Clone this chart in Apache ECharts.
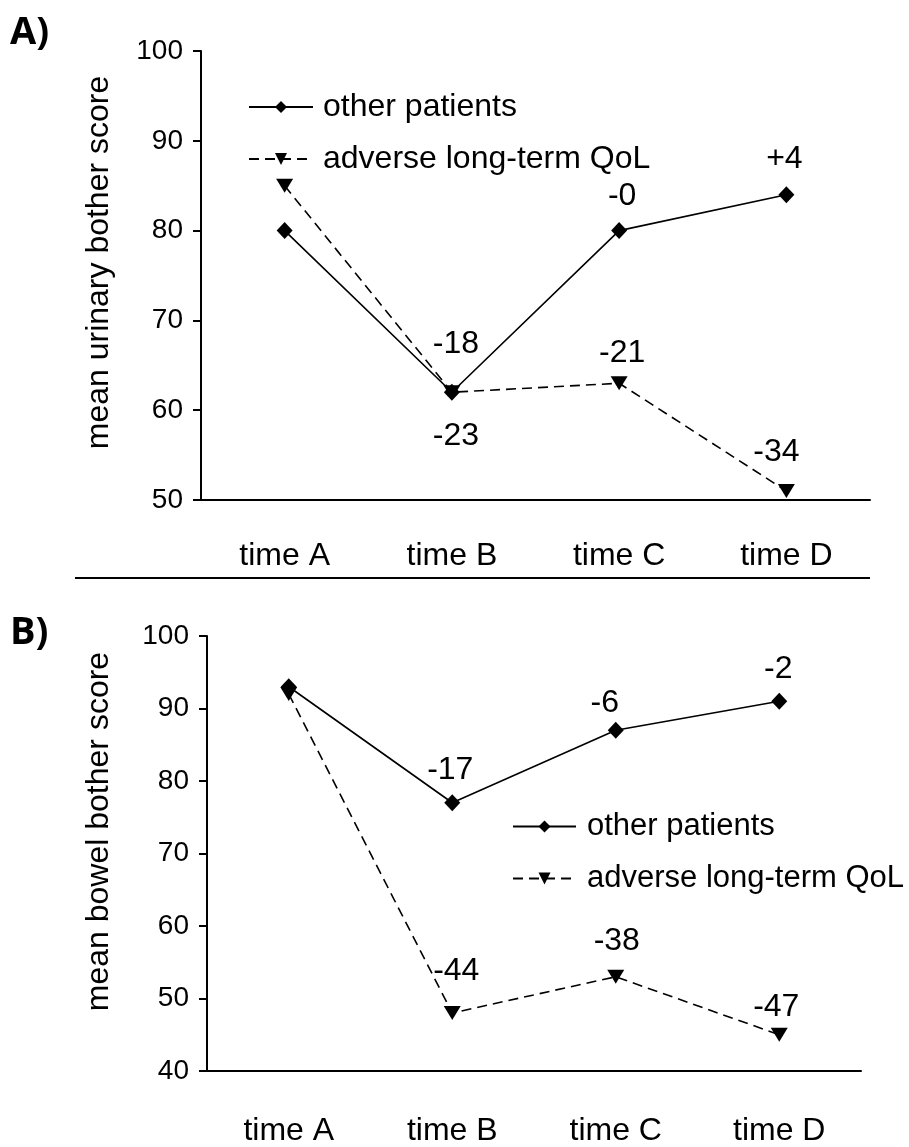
<!DOCTYPE html>
<html>
<head>
<meta charset="utf-8">
<script src="https://cdn.jsdelivr.net/npm/echarts@6/dist/echarts.min.js"></script>
<style>html,body{margin:0;padding:0;background:#fff}#c{width:909px;height:1147px}</style>
</head>
<body>
<div id="c"></div>
<script>
// ---- data ----
const categories = ['time A', 'time B', 'time C', 'time D'];
const seriesNames = ['other patients', 'adverse long-term QoL'];
// Panel A: urinary bother
const urinaryOther = [80, 62, 80, 84];
const urinaryAdverse = [85, 62, 63, 51];
const urinaryOtherChange = ['', '-18', '-0', '+4'];
const urinaryAdverseChange = ['', '-23', '-21', '-34'];
// Panel B: bowel bother
const bowelOther = [93, 77, 87, 91];
const bowelAdverse = [92, 48, 53, 45];
const bowelOtherChange = ['', '-17', '-6', '-2'];
const bowelAdverseChange = ['', '-44', '-38', '-47'];
const yTicksA = [50, 60, 70, 80, 90, 100];
const yTicksB = [40, 50, 60, 70, 80, 90, 100];

// ---- styles (label placement per point) ----
const labelStyleAO = [null, {position:'top', distance:24, offset:[4,0]}, {position:'top', distance:10, offset:[3,0]}, {position:'top', distance:11, offset:[-2,0]}];
const labelStyleAA = [null, {position:'bottom', distance:21, offset:[4,0]}, {position:'top', distance:7, offset:[3,0]}, {position:'top', distance:16, offset:[-10,0]}];
const labelStyleBO = [null, {position:'top', distance:8, offset:[-2,0]}, {position:'top', distance:3, offset:[-11,0]}, {position:'top', distance:8, offset:[-1,0]}];
const labelStyleBA = [null, {position:'top', distance:19, offset:[4,0]}, {position:'top', distance:13, offset:[1,0]}, {position:'top', distance:5, offset:[-3,0]}];

const FONT = '"Liberation Sans", Arial, sans-serif';
const TXT = {fontFamily: FONT, fontSize: 32, lineHeight: 32, color: '#000'};

function buildData(vals, changes, styles) {
  return vals.map((v, i) => {
    const s = styles[i];
    if (!changes[i] || !s) return {value: v, label: {show: false}};
    return {value: v, label: Object.assign({show: true, formatter: changes[i]}, s)};
  });
}

function mkSeries(name, vals, changes, styles, idx, dashed) {
  return {
    name: name, type: 'line', xAxisIndex: idx, yAxisIndex: idx,
    data: buildData(vals, changes, styles),
    symbol: dashed ? 'triangle' : 'diamond',
    symbolRotate: dashed ? 180 : 0,
    symbolSize: dashed ? [17, 14] : [16, 17],
    itemStyle: {color: '#000'},
    lineStyle: {color: '#000', width: 1.6, type: dashed ? [10, 6] : 'solid'},
    label: Object.assign({}, TXT),
    emphasis: {disabled: true},
    z: dashed ? 2 : 3
  };
}

function xAxisCfg(idx, margin) {
  return {
    type: 'category', gridIndex: idx, data: categories, boundaryGap: true,
    axisLine: {lineStyle: {color: '#000', width: 2}},
    axisTick: {alignWithLabel: true, length: 12, lineStyle: {color: '#000', width: 2}},
    axisLabel: Object.assign({}, TXT, {margin: margin}),
    splitLine: {show: false}
  };
}
function yAxisCfg(idx, ticks, name, gap, pad) {
  return {
    type: 'value', gridIndex: idx, min: ticks[0], max: ticks[ticks.length - 1], interval: 10,
    name: name, nameLocation: 'middle', nameGap: gap,
    nameTextStyle: Object.assign({}, TXT, {padding: pad}),
    axisLine: {show: true, lineStyle: {color: '#000', width: 2}},
    axisTick: {show: true, length: 8, lineStyle: {color: '#000', width: 2}},
    axisLabel: Object.assign({}, TXT, {fontSize: 28, lineHeight: 28, margin: 18}),
    splitLine: {show: false}
  };
}

const chart = echarts.init(document.getElementById('c'), null, {renderer: 'canvas'});
chart.setOption({
  backgroundColor: '#fff',
  animation: false,
  grid: [
    {left: 201, right: 39, top: 51, height: 449},
    {left: 207, right: 48, top: 636, height: 436}
  ],
  xAxis: [xAxisCfg(0, 40), xAxisCfg(1, 44)],
  yAxis: [
    yAxisCfg(0, yTicksA, 'mean urinary bother score', 86, [0, 0, 0, 26]),
    yAxisCfg(1, yTicksB, 'mean bowel bother score', 92, [0, 0, 0, 44])
  ],
  legend: [
    {
      orient: 'vertical', left: 243, top: 86, itemWidth: 64, itemHeight: 15, itemGap: 20,
      textStyle: Object.assign({}, TXT, {padding: [0, 0, 0, 5]}),
      data: [{name: seriesNames[0]}, {name: seriesNames[1]}], selectedMode: false
    },
    {
      orient: 'vertical', left: 507, top: 806, itemWidth: 63, itemHeight: 15, itemGap: 21,
      textStyle: Object.assign({}, TXT, {fontSize: 31, lineHeight: 31, padding: [0, 0, 0, 6]}),
      data: [{name: seriesNames[0]}, {name: seriesNames[1]}], selectedMode: false
    }
  ],
  series: [
    mkSeries(seriesNames[0], urinaryOther, urinaryOtherChange, labelStyleAO, 0, false),
    mkSeries(seriesNames[1], urinaryAdverse, urinaryAdverseChange, labelStyleAA, 0, true),
    mkSeries(seriesNames[0], bowelOther, bowelOtherChange, labelStyleBO, 1, false),
    mkSeries(seriesNames[1], bowelAdverse, bowelAdverseChange, labelStyleBA, 1, true)
  ],
  graphic: [
    {type: 'text', left: 10, top: 14, style: {text: 'A)', font: 'bold 38px "Open Sans"', fill: '#000'}},
    {type: 'text', left: 10, top: 614, style: {text: 'B)', font: 'bold 38px "Open Sans"', fill: '#000'}},
    {type: 'line', shape: {x1: 75, y1: 578, x2: 870, y2: 578}, style: {stroke: '#000', lineWidth: 2}}
  ]
});
</script>
</body>
</html>
